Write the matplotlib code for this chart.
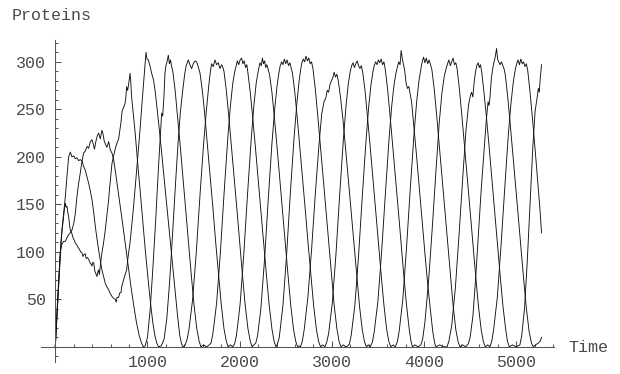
import matplotlib
matplotlib.use('Agg')
import matplotlib.pyplot as plt
from matplotlib.ticker import MultipleLocator

# protein counts, (time, proteins)
protein_a = [
    (0, 0), (12, 22), (25, 45), (36, 68), (50, 92), (62, 112), (75, 124), (90, 137), (100, 146),
    (109, 151), (118, 147), (127, 148), (136, 141), (145, 137), (155, 128), (163, 123), (172, 121),
    (181, 119), (195, 114), (208, 112), (217, 109), (230, 108), (245, 105), (260, 103), (275, 100),
    (289, 99), (300, 95), (310, 97), (325, 98), (335, 93), (350, 94), (362, 92), (375, 89), (388, 87),
    (398, 85), (408, 89), (418, 88), (428, 80), (440, 77), (452, 74), (462, 79), (470, 81), (478, 76),
    (488, 85), (497, 92), (506, 99), (518, 106), (530, 114), (542, 123), (555, 134), (567, 145),
    (579, 155), (590, 168), (600, 178), (615, 193), (630, 200), (645, 206), (660, 212), (675, 216),
    (687, 219), (700, 228), (712, 236), (725, 248), (740, 252), (756, 256), (765, 262), (774, 274),
    (785, 270), (795, 276), (803, 282), (811, 288), (818, 280), (828, 263), (845, 246), (864, 228),
    (882, 207), (900, 186), (920, 165), (940, 142), (960, 120), (980, 98), (1000, 78), (1020, 58),
    (1040, 40), (1060, 24), (1080, 12), (1100, 4), (1120, 0), (1150, 1), (1180, 8), (1210, 30),
    (1240, 68), (1270, 115), (1300, 165), (1330, 212), (1355, 245), (1380, 268), (1405, 288),
    (1420, 296), (1443, 302), (1460, 297), (1479, 293), (1497, 298), (1515, 301), (1533, 300),
    (1550, 295), (1570, 288), (1595, 270), (1620, 246), (1650, 213), (1680, 180), (1710, 146),
    (1740, 110), (1770, 77), (1800, 45), (1830, 19), (1855, 6), (1875, 0), (1900, 2), (1925, 0),
    (1945, 3), (1965, 12), (1985, 28), (2005, 45), (2045, 98), (2085, 160), (2125, 218), (2155, 255),
    (2180, 278), (2205, 292), (2220, 299), (2235, 296), (2247, 304), (2259, 298), (2271, 301),
    (2283, 294), (2295, 297), (2310, 292), (2325, 286), (2350, 268), (2375, 243), (2405, 211),
    (2435, 177), (2465, 144), (2495, 109), (2525, 75), (2555, 43), (2585, 18), (2610, 5), (2630, 0),
    (2645, 1), (2660, 0), (2680, 6), (2700, 18), (2740, 52), (2780, 102), (2820, 160), (2860, 212),
    (2890, 245), (2915, 258), (2935, 262), (2950, 270), (2965, 268), (2980, 276), (2995, 280),
    (3010, 283), (3025, 289), (3040, 284), (3055, 287), (3070, 280), (3095, 262), (3120, 240),
    (3150, 208), (3180, 175), (3210, 142), (3240, 108), (3270, 75), (3300, 43), (3330, 18), (3355, 5),
    (3375, 0), (3395, 2), (3417, 0), (3440, 5), (3460, 16), (3500, 48), (3540, 100), (3580, 160),
    (3620, 218), (3650, 254), (3675, 276), (3695, 288), (3710, 294), (3725, 300), (3740, 297),
    (3752, 312), (3762, 305), (3775, 298), (3790, 291), (3805, 278), (3820, 272), (3835, 274),
    (3850, 266), (3865, 258), (3890, 232), (3920, 200), (3950, 166), (3980, 132), (4010, 98),
    (4040, 66), (4070, 38), (4095, 16), (4115, 4), (4130, 0), (4170, 2), (4210, 0), (4250, 0),
    (4270, 6), (4300, 22), (4340, 62), (4380, 118), (4420, 178), (4455, 228), (4485, 256), (4505, 265),
    (4516, 268), (4530, 263), (4545, 280), (4560, 290), (4572, 296), (4588, 299), (4600, 294),
    (4612, 297), (4625, 290), (4650, 268), (4675, 244), (4705, 212), (4735, 178), (4765, 144),
    (4795, 110), (4825, 76), (4855, 44), (4885, 19), (4905, 6), (4925, 0), (4960, 2), (5000, 0),
    (5040, 2), (5060, 12), (5090, 40), (5120, 90), (5150, 150), (5180, 210), (5205, 248), (5228, 263),
    (5240, 272), (5250, 268), (5262, 284), (5275, 297),
]

protein_b = [
    (0, 0), (12, 20), (24, 42), (36, 63), (54, 95), (72, 123), (90, 140), (109, 158), (127, 180),
    (145, 200), (163, 205), (181, 200), (200, 201), (217, 198), (235, 199), (253, 196), (270, 197),
    (289, 196), (307, 190), (325, 186), (343, 179), (362, 172), (380, 164), (398, 155), (416, 142),
    (434, 127), (452, 114), (470, 102), (488, 91), (506, 81), (524, 74), (542, 67), (560, 63),
    (579, 60), (597, 56), (615, 53), (633, 51), (651, 50), (660, 47), (670, 52), (687, 52), (700, 57),
    (713, 57), (720, 63), (745, 72), (774, 81), (790, 95), (810, 109), (828, 126), (846, 144),
    (864, 165), (882, 186), (900, 207), (919, 228), (937, 252), (955, 274), (970, 292), (984, 310),
    (995, 303), (1009, 302), (1027, 296), (1045, 288), (1066, 281), (1085, 268), (1105, 250),
    (1125, 232), (1150, 208), (1180, 178), (1210, 148), (1240, 118), (1270, 88), (1300, 58),
    (1325, 34), (1350, 12), (1370, 3), (1385, 0), (1400, 1), (1410, 2), (1430, 8), (1450, 18),
    (1490, 50), (1530, 100), (1570, 160), (1610, 215), (1640, 250), (1665, 275), (1680, 288),
    (1696, 298), (1714, 295), (1732, 302), (1750, 297), (1768, 299), (1786, 293), (1805, 297),
    (1818, 294), (1830, 290), (1855, 270), (1880, 245), (1910, 212), (1940, 178), (1970, 145),
    (2000, 110), (2030, 76), (2060, 44), (2090, 19), (2115, 6), (2135, 0), (2155, 2), (2175, 4),
    (2195, 12), (2230, 40), (2270, 92), (2310, 155), (2350, 214), (2380, 250), (2405, 274),
    (2425, 288), (2440, 296), (2455, 300), (2470, 297), (2485, 303), (2500, 298), (2515, 302),
    (2530, 296), (2545, 299), (2560, 293), (2573, 288), (2598, 268), (2623, 243), (2653, 210),
    (2683, 177), (2713, 143), (2743, 108), (2773, 75), (2803, 43), (2833, 18), (2858, 5), (2878, 0),
    (2900, 2), (2925, 0), (2945, 5), (2965, 14), (3005, 46), (3045, 98), (3085, 160), (3125, 218),
    (3155, 255), (3180, 278), (3200, 290), (3215, 296), (3230, 299), (3245, 294), (3260, 298),
    (3275, 301), (3290, 296), (3305, 293), (3320, 296), (3335, 289), (3360, 270), (3385, 244),
    (3415, 212), (3445, 178), (3475, 144), (3505, 110), (3535, 76), (3565, 44), (3595, 18), (3620, 5),
    (3640, 0), (3665, 2), (3688, 0), (3710, 5), (3730, 16), (3770, 50), (3810, 104), (3850, 165),
    (3890, 222), (3920, 258), (3945, 280), (3965, 292), (3980, 300), (3995, 305), (4010, 299),
    (4025, 304), (4040, 298), (4055, 302), (4070, 297), (4085, 292), (4110, 272), (4135, 246),
    (4165, 213), (4195, 179), (4225, 145), (4255, 110), (4285, 76), (4315, 44), (4345, 18), (4370, 5),
    (4390, 0), (4420, 2), (4450, 0), (4480, 3), (4500, 10), (4530, 32), (4560, 72), (4590, 118),
    (4620, 165), (4650, 205), (4675, 238), (4695, 258), (4705, 254), (4715, 262), (4730, 282),
    (4745, 293), (4760, 300), (4772, 305), (4787, 314), (4798, 303), (4810, 300), (4825, 297),
    (4840, 300), (4855, 296), (4870, 292), (4882, 286), (4905, 266), (4930, 240), (4960, 207),
    (4990, 173), (5020, 140), (5050, 106), (5080, 72), (5110, 41), (5140, 16), (5165, 4), (5185, 0),
    (5210, 2), (5240, 4), (5260, 6), (5275, 10),
]

protein_c = [
    (0, 0), (12, 25), (20, 40), (36, 70), (54, 100), (72, 108), (90, 111), (109, 111), (127, 115),
    (145, 118), (163, 120), (181, 123), (200, 130), (217, 140), (235, 158), (253, 172), (271, 183),
    (289, 195), (307, 204), (325, 206), (345, 211), (362, 209), (380, 216), (398, 218), (410, 214),
    (425, 208), (440, 216), (455, 222), (470, 225), (488, 219), (506, 228), (518, 224), (530, 217),
    (545, 213), (560, 210), (579, 216), (597, 207), (615, 204), (633, 197), (650, 186), (670, 172),
    (687, 160), (705, 148), (730, 130), (760, 108), (790, 86), (820, 64), (850, 44), (880, 26),
    (910, 12), (935, 4), (955, 0), (975, 1), (1000, 10), (1030, 40), (1060, 85), (1090, 135),
    (1120, 190), (1145, 232), (1154, 246), (1165, 243), (1178, 262), (1190, 288), (1200, 296),
    (1212, 300), (1226, 307), (1238, 298), (1250, 302), (1262, 295), (1275, 290), (1300, 270),
    (1325, 244), (1355, 212), (1385, 178), (1415, 145), (1445, 110), (1475, 76), (1505, 44),
    (1535, 19), (1560, 6), (1580, 0), (1610, 2), (1640, 0), (1670, 2), (1690, 4), (1710, 14),
    (1750, 46), (1790, 98), (1830, 160), (1870, 218), (1900, 254), (1925, 277), (1945, 289),
    (1960, 295), (1975, 301), (1990, 297), (2005, 302), (2021, 304), (2035, 298), (2050, 301),
    (2064, 294), (2078, 297), (2090, 288), (2115, 268), (2140, 243), (2170, 211), (2200, 177),
    (2230, 144), (2260, 110), (2290, 76), (2320, 44), (2350, 19), (2375, 5), (2395, 0), (2410, 3),
    (2430, 10), (2470, 44), (2510, 98), (2550, 162), (2590, 220), (2620, 256), (2645, 280),
    (2662, 292), (2675, 299), (2690, 303), (2705, 300), (2720, 306), (2735, 301), (2750, 304),
    (2765, 298), (2780, 300), (2795, 293), (2820, 272), (2845, 246), (2875, 213), (2905, 179),
    (2935, 145), (2965, 110), (2995, 76), (3025, 44), (3055, 19), (3080, 5), (3100, 0), (3125, 2),
    (3150, 0), (3175, 1), (3190, 3), (3210, 12), (3250, 44), (3290, 96), (3330, 158), (3370, 216),
    (3400, 253), (3425, 276), (3445, 289), (3460, 296), (3475, 300), (3490, 297), (3505, 302),
    (3520, 299), (3535, 303), (3550, 297), (3565, 300), (3580, 292), (3605, 271), (3630, 245),
    (3660, 212), (3690, 178), (3720, 145), (3750, 110), (3780, 76), (3810, 44), (3840, 18), (3860, 5),
    (3875, 0), (3900, 2), (3935, 0), (3965, 2), (3985, 8), (4010, 26), (4050, 70), (4090, 126),
    (4130, 186), (4165, 236), (4195, 268), (4220, 285), (4240, 293), (4255, 298), (4270, 302),
    (4285, 296), (4300, 300), (4315, 304), (4330, 297), (4345, 299), (4360, 292), (4385, 270),
    (4410, 244), (4440, 211), (4470, 177), (4500, 143), (4530, 108), (4560, 75), (4590, 43),
    (4620, 18), (4645, 5), (4665, 0), (4690, 2), (4715, 0), (4735, 6), (4755, 18), (4795, 52),
    (4835, 106), (4875, 166), (4915, 224), (4945, 258), (4970, 280), (4990, 292), (5005, 298),
    (5020, 302), (5035, 297), (5050, 303), (5065, 298), (5080, 300), (5095, 295), (5110, 298),
    (5125, 291), (5150, 268), (5175, 242), (5205, 208), (5235, 172), (5255, 148), (5275, 120),
]

x_ticks = [1000, 2000, 3000, 4000, 5000]
y_ticks = [50, 100, 150, 200, 250, 300]

plt.rcParams['font.family'] = ['Liberation Mono', 'DejaVu Sans Mono']
text_color = '#4a4a4a'

W, H = 620, 374
fig = plt.figure(figsize=(W / 100, H / 100), dpi=100)
ax = fig.add_axes([41 / W, 1 - 362 / H, (554 - 41) / W, (362 - 40) / H])

for series in (protein_a, protein_b, protein_c):
    t = [p[0] for p in series]
    v = [p[1] for p in series]
    ax.plot(t, v, color='#111111', lw=0.65)

ax.set_xlim(-155, 5410)
ax.set_ylim(-16, 323)

for side in ('top', 'right'):
    ax.spines[side].set_visible(False)
for side in ('left', 'bottom'):
    ax.spines[side].set_position(('data', 0))
    ax.spines[side].set_color('#555555')
    ax.spines[side].set_linewidth(0.75)

ax.set_xticks(x_ticks)
ax.set_yticks(y_ticks)
ax.xaxis.set_minor_locator(MultipleLocator(200))
ax.yaxis.set_minor_locator(MultipleLocator(10))
ax.tick_params(which='both', direction='in', colors='#555555', labelcolor=text_color,
               labelsize=12, width=0.75)
ax.tick_params(which='major', length=4.5)
ax.tick_params(which='minor', length=2.5)
ax.tick_params(axis='y', pad=7)
ax.tick_params(axis='x', pad=6)

fig.text(12 / W, 1 - 20 / H, 'Proteins', fontsize=12, color=text_color, va='baseline', ha='left')
fig.text(568 / W, 1 - 352 / H, 'Time', fontsize=12, color=text_color, va='baseline', ha='left')

fig.savefig('out.png', dpi=100)
